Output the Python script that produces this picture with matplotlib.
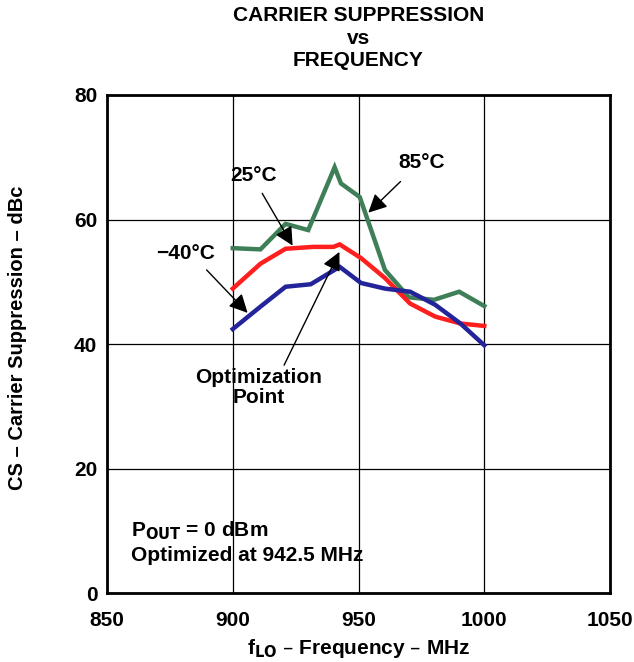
import numpy as np
import matplotlib
matplotlib.use("Agg")
import matplotlib.pyplot as plt

plt.rcParams['font.family'] = ['Liberation Sans', 'DejaVu Sans']
plt.rcParams['font.weight'] = 'bold'

# frequency (MHz) and carrier suppression (dBc)
f_85 = [900, 911, 921, 930, 940.5, 943, 950.5, 960.5, 970, 980, 990, 1000]
cs_85 = [55.4, 55.2, 59.3, 58.3, 68.4, 65.8, 63.6, 51.9, 47.5, 47.1, 48.4, 46.1]

f_25 = [900, 911, 921, 932, 940, 942.5, 951, 960.5, 970.5, 980.5, 990.5, 1000]
cs_25 = [48.9, 52.9, 55.3, 55.6, 55.6, 56.0, 53.8, 50.6, 46.5, 44.4, 43.3, 42.9]

f_m40 = [900, 911, 921, 931, 942.5, 951, 960.5, 970.5, 980.5, 990.5, 1000]
cs_m40 = [42.4, 46.0, 49.2, 49.6, 52.4, 49.8, 48.9, 48.4, 46.3, 43.3, 39.8]

xticks = [850, 900, 950, 1000, 1050]
yticks = [0, 20, 40, 60, 80]

fig = plt.figure(figsize=(6.34, 6.62), dpi=100)
ax = fig.add_axes([0.1688, 0.1042, 0.7934, 0.7523])

ax.plot(f_85, cs_85, color="#3f7f58", lw=3.2, solid_joinstyle='miter')
ax.plot(f_25, cs_25, color="#ff1f1f", lw=3.2, solid_joinstyle='miter')
ax.plot(f_m40, cs_m40, color="#23239a", lw=3.2, solid_joinstyle='miter')

ax.set_xlim(850, 1050)
ax.set_ylim(0, 80)
ax.set_xticks(xticks)
ax.set_yticks(yticks)
ax.tick_params(length=0, labelsize=15)
ax.tick_params(axis='x', pad=13)
ax.tick_params(axis='y', pad=7)
for lab in ax.get_xticklabels() + ax.get_yticklabels():
    lab.set_fontweight('bold')
ax.grid(color='black', lw=0.9)
for s in ax.spines.values():
    s.set_linewidth(2)

arrow = dict(arrowstyle='-|>', color='black', lw=1, mutation_scale=28, shrinkA=0, shrinkB=0)
ax.annotate("", xy=(923.8, 55.8), xytext=(911.7, 64.2), arrowprops=arrow)
ax.text(908.2, 67.0, "25°C", fontsize=15, fontweight='bold', ha='center', va='center')
ax.annotate("", xy=(905.9, 45.0), xytext=(889.6, 51.9), arrowprops=arrow)
ax.text(881.4, 54.6, "−40°C", fontsize=15, fontweight='bold', ha='center', va='center')
ax.annotate("", xy=(953.9, 61.1), xytext=(966.7, 66.1), arrowprops=arrow)
ax.text(975.2, 69.1, "85°C", fontsize=15, fontweight='bold', ha='center', va='center')
ax.annotate("", xy=(942.4, 54.8), xytext=(920.4, 36.6), arrowprops=arrow)
ax.text(910.2, 33.0, "Optimization\nPoint", fontsize=15, fontweight='bold',
        ha='center', va='center', linespacing=1.05)

ax.text(859.5, 10.0, r"P$_{\mathbf{OUT}}$ = 0 dBm", fontsize=15, fontweight='bold', va='center')
ax.text(859.5, 6.1, "Optimized at 942.5 MHz", fontsize=15, fontweight='bold', va='center')

fig.text(0.565, 0.977, "CARRIER SUPPRESSION", fontsize=15, fontweight='bold', ha='center', va='center')
fig.text(0.565, 0.942, "vs", fontsize=15, fontweight='bold', ha='center', va='center')
fig.text(0.565, 0.909, "FREQUENCY", fontsize=15, fontweight='bold', ha='center', va='center')

fig.text(0.565, 0.021, r"f$_{\mathbf{LO}}$ – Frequency – MHz", fontsize=15, fontweight='bold', ha='center', va='center')
fig.text(0.028, 0.489, "CS – Carrier Suppression – dBc", fontsize=14.5, fontweight='bold',
         ha='center', va='center', rotation=90)

fig.savefig("out.png", dpi=100)
